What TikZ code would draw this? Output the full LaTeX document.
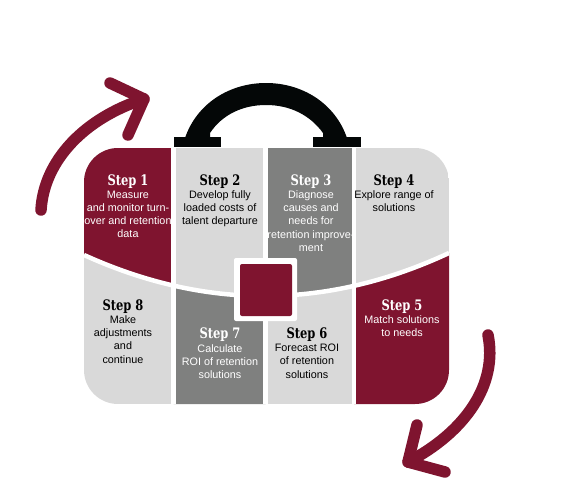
\documentclass[tikz,border=0pt]{standalone}
\usepackage{fontspec}
\setmainfont{Liberation Sans}
\newfontfamily\titlefont[FakeStretch=0.88]{DejaVu Serif Condensed}
\definecolor{maroon}{HTML}{7F142F}
\definecolor{midgray}{HTML}{7F807F}
\definecolor{lightgray}{HTML}{D9D9D9}
\definecolor{handle}{HTML}{040707}
\tikzset{
  steptitle/.style={anchor=base,inner sep=0pt,font=\titlefont\bfseries\fontsize{14.5}{14.5}\selectfont},
  stepbody/.style={anchor=north,inner sep=0pt,align=center,font=\fontsize{10.8}{13.2}\selectfont},
  onlight/.style={text=black},
  ondark/.style={text=white},
  turnarrow/.style={draw=maroon,line width=11.5pt,line cap=round,line join=round},
  divider/.style={draw=white,line width=4.5pt}
}
\begin{document}
\begin{tikzpicture}[x=1pt,y=-1pt]
\useasboundingbox (0,0) rectangle (579,490);
% handle
\fill[handle] (185,138) .. controls (197,103) and (230,83) .. (266,83)
  .. controls (302,83) and (335,103) .. (347,138) -- (323,138) -- (323,133)
  .. controls (310,115) and (290,105) .. (266,105)
  .. controls (242,105) and (222,115) .. (210,133) -- (210,138) -- cycle;
\fill[handle] (174,137) rectangle (221,147);
\fill[handle] (313,137) rectangle (361,147);
% case
\begin{scope}
  \clip[rounded corners=34pt] (84,148) rectangle (449,404);
  \fill[lightgray] (84,148) rectangle (449,404);
  \fill[maroon] (84,148) -- (173.5,148) -- (173.5,290) -- (171,284)
     .. controls (140,278) and (110,268) .. (84,255) -- cycle;
  \fill[midgray] (265.5,148) -- (354,148) -- (354,300) -- (265.5,300) -- cycle;
  \fill[lightgray] (265.5,296.5) .. controls (295,296.5) and (325,293) .. (354,285.5)
     -- (354,310) -- (265.5,310) -- cycle;
  \fill[maroon] (354,285.5) .. controls (386,277) and (418,266) .. (449,253)
     -- (449,404) -- (354,404) -- cycle;
  \fill[midgray] (173.5,285.5) .. controls (203,292) and (235,296.5) .. (265.5,296.5)
     -- (265.5,404) -- (173.5,404) -- cycle;
  \draw[divider] (84,255) .. controls (205.7,310.3) and (327.3,309.7) .. (449,253);
  \draw[divider] (173.5,148) -- (173.5,404);
  \draw[divider] (265.5,148) -- (265.5,404);
  \draw[divider] (354,148) -- (354,404);
\end{scope}
% centre clasp
\node[fill=white,draw=none,rounded corners=2pt,minimum width=63pt,minimum height=63pt,inner sep=0pt] (claspback) at (265.5,289.5) {};
\node[fill=maroon,draw=none,rounded corners=2pt,minimum width=52pt,minimum height=52pt,inner sep=0pt] (clasp) at (266,290) {};
% arrows
\coordinate (a1s) at (41,210);
\coordinate (a1t) at (144,99);
\coordinate (a1u) at (110,83);
\coordinate (a1l) at (128,135);
\draw[turnarrow] (a1s) .. controls (44,160) and (85,118) .. (a1t);
\draw[turnarrow] (a1u) -- (a1t) -- (a1l);
\coordinate (a2s) at (488,335);
\coordinate (a2t) at (408,462);
\coordinate (a2u) at (417,425);
\coordinate (a2l) at (445,472);
\draw[turnarrow] (a2s) .. controls (498,385) and (465,432) .. (a2t);
\draw[turnarrow] (a2u) -- (a2t) -- (a2l);
% step texts
\node[steptitle,ondark] (t1) at (128,185) {Step 1};
\node[stepbody,ondark] (b1) at (128,190.5) {Measure\\and monitor turn-\\over and retention\\data};
\node[steptitle,onlight] (t2) at (220,185) {Step 2};
\node[stepbody,onlight] (b2) at (220,190.5) {Develop fully\\loaded costs of\\talent departure};
\node[steptitle,ondark] (t3) at (311,185) {Step 3};
\node[stepbody,ondark] (b3) at (311,190.5) {Diagnose\\causes and\\needs for\\retention improve-\\ment};
\node[steptitle,onlight] (t4) at (394,185) {Step 4};
\node[stepbody,onlight] (b4) at (394,190.5) {Explore range of\\solutions};
\node[steptitle,ondark] (t5) at (402,310) {Step 5};
\node[stepbody,ondark] (b5) at (402,315.5) {Match solutions\\to needs};
\node[steptitle,onlight] (t6) at (307,338) {Step 6};
\node[stepbody,onlight] (b6) at (307,344) {Forecast ROI\\of retention\\solutions};
\node[steptitle,ondark] (t7) at (220,338) {Step 7};
\node[stepbody,ondark] (b7) at (220,344) {Calculate\\ROI of retention\\solutions};
\node[steptitle,onlight] (t8) at (123,310) {Step 8};
\node[stepbody,onlight] (b8) at (123,315.5) {Make\\adjustments\\and\\continue};
\end{tikzpicture}
\end{document}
